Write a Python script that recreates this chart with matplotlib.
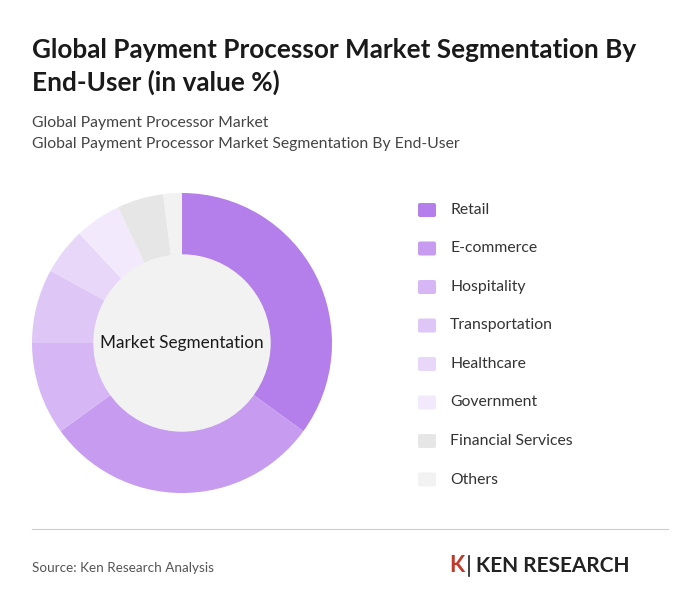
import matplotlib.pyplot as plt
import matplotlib.patches as mpatches

plt.rcParams['font.family'] = ['Lato', 'DejaVu Sans']

segments = ['Retail', 'E-commerce', 'Hospitality', 'Transportation', 'Healthcare',
            'Government', 'Financial Services', 'Others']
shares = [35, 30, 10, 8, 5, 5, 5, 2]
colors = ['#B47FEB', '#C79CF0', '#D6B6F4', '#DEC6F6', '#E8D7F9', '#F2EAFC', '#E6E6E6', '#F2F2F2']

W, H = 700, 615
fig = plt.figure(figsize=(7, 6.15), dpi=100)
fig.patch.set_facecolor('white')

def fx(x): return x / W
def fy(y): return 1 - y / H

fig.text(fx(32), fy(50), 'Global Payment Processor Market Segmentation By', fontsize=18.8,
         fontweight='bold', color='#1a1a1a', va='center')
fig.text(fx(32), fy(82), 'End-User (in value %)', fontsize=18.8, fontweight='bold',
         color='#1a1a1a', va='center')
fig.text(fx(32), fy(123), 'Global Payment Processor Market', fontsize=11.3, color='#444444', va='center')
fig.text(fx(32), fy(144), 'Global Payment Processor Market Segmentation By End-User', fontsize=11.3,
         color='#444444', va='center')

# donut: centre (182,343), radius 150 px
r = 150
ax = fig.add_axes([fx(182 - r), fy(343 + r), 2 * r / W, 2 * r / H])
ax.pie(shares, colors=colors, startangle=90, counterclock=False,
       wedgeprops=dict(width=62 / r, edgecolor='none'))
ax.add_patch(plt.Circle((0, 0), 88 / r, color='#F2F2F2', zorder=3))
ax.text(0, 0, 'Market Segmentation', ha='center', va='center', fontsize=12.3, color='#1a1a1a', zorder=4)
ax.set_aspect('equal')
ax.set_xlim(-1, 1)
ax.set_ylim(-1, 1)

# legend
for i, (name, c) in enumerate(zip(segments, colors)):
    y = 210 + i * 38.5
    fig.patches.append(mpatches.FancyBboxPatch((fx(418), fy(y + 7)), 18 / W, 14 / H,
                       boxstyle='round,pad=0,rounding_size=0.003', facecolor=c, edgecolor='none',
                       transform=fig.transFigure, figure=fig))
    fig.text(fx(450), fy(y), name, fontsize=11.3, color='#333333', va='center')

# divider and footer
fig.add_artist(plt.Line2D([fx(32), fx(668)], [fy(529), fy(529)], color='#cccccc', lw=0.8))
fig.text(fx(32), fy(568), 'Source: Ken Research Analysis', fontsize=9.7, color='#555555', va='center')
fig.text(fx(476), fy(566), 'KEN RESEARCH', fontsize=15, fontweight='bold', color='#222222', va='center')
fig.text(fx(449), fy(566), 'K', fontsize=16, fontweight='bold', color='#c0392b', va='center')
fig.add_artist(plt.Line2D([fx(469), fx(469)], [fy(556), fy(576)], color='#222222', lw=1.2))

fig.savefig('out.png', dpi=100, facecolor='white')
